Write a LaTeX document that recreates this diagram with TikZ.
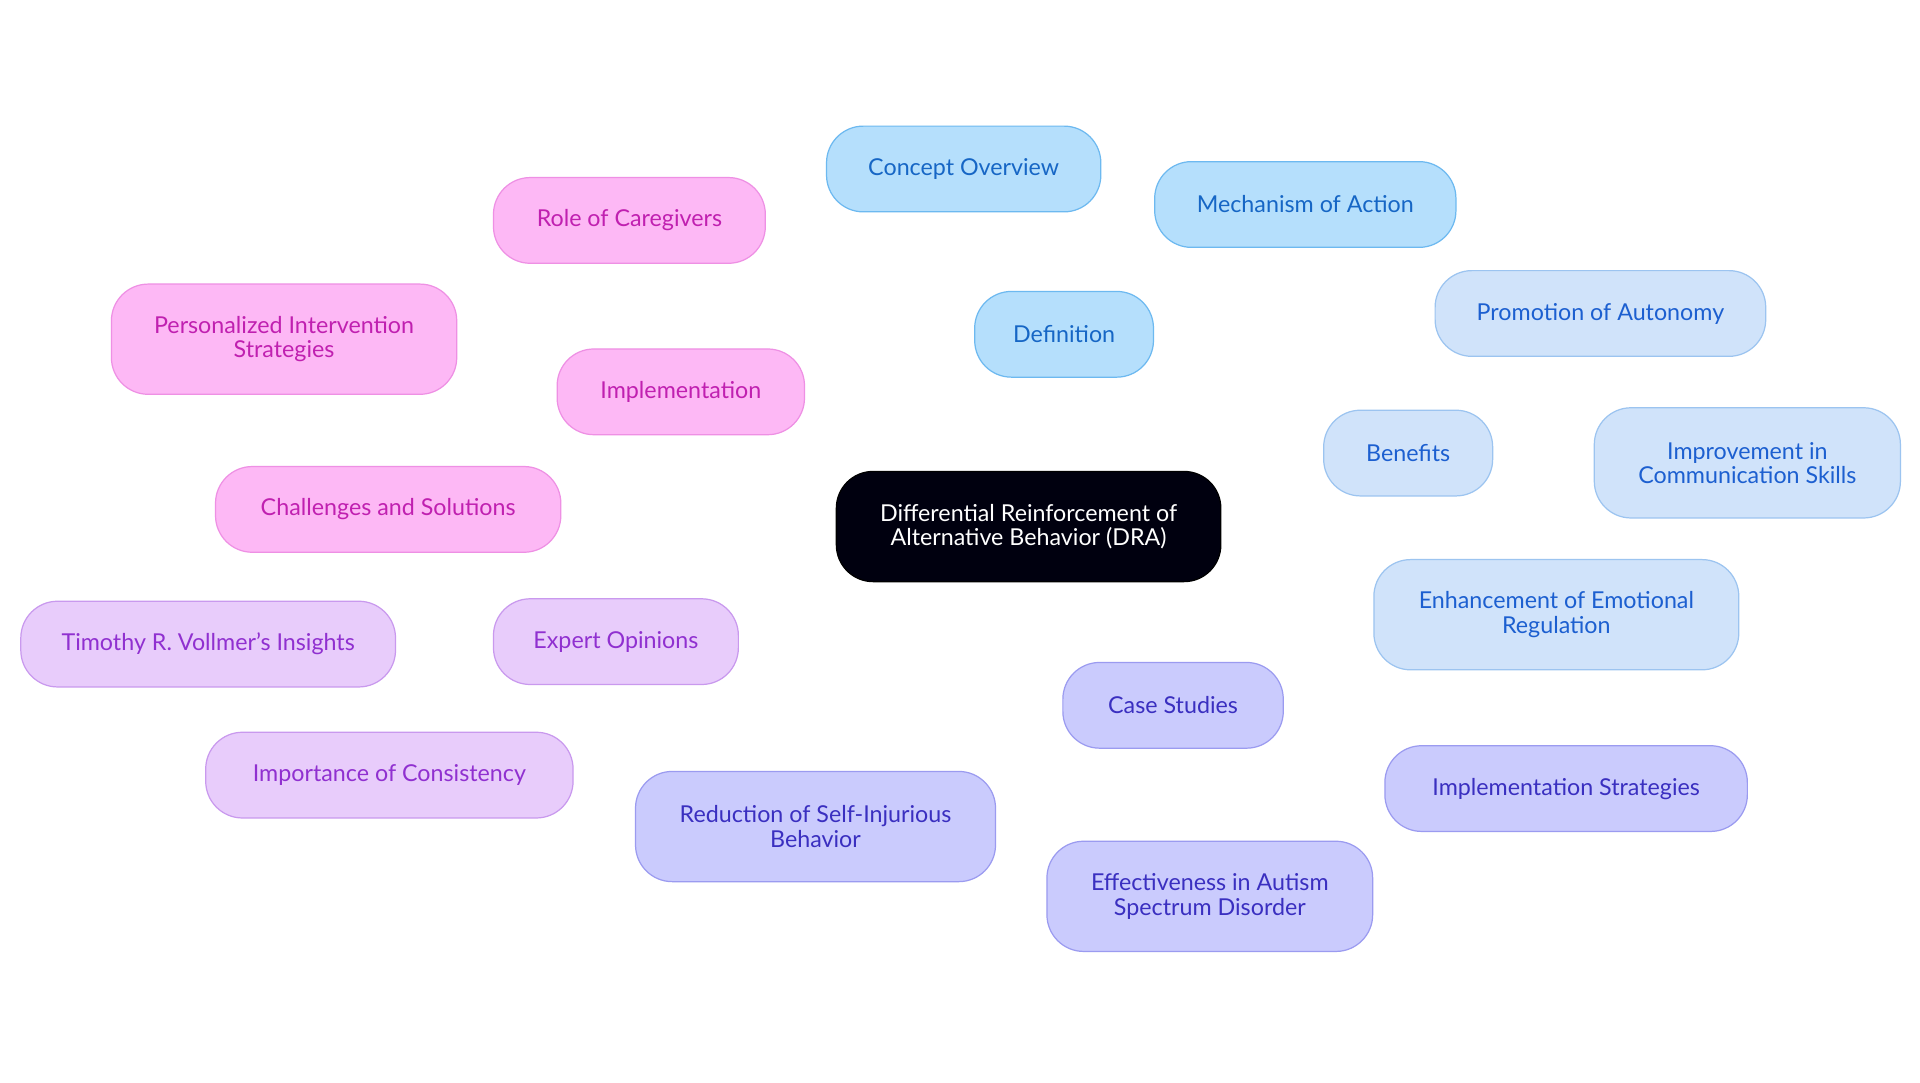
\documentclass[tikz,border=0pt]{standalone}
\usepackage{fontspec}
\setmainfont{Lato}
\usetikzlibrary{backgrounds}
\definecolor{blF}{HTML}{B5DFFC}\definecolor{blD}{HTML}{6DB9F0}\definecolor{blT}{HTML}{1666C5}
\definecolor{lbF}{HTML}{D0E3FA}\definecolor{lbD}{HTML}{9CC4F0}\definecolor{lbT}{HTML}{1C5FD0}
\definecolor{vF}{HTML}{CACBFD}\definecolor{vD}{HTML}{9B9BF0}\definecolor{vT}{HTML}{3A2FC0}
\definecolor{pF}{HTML}{E8CCFB}\definecolor{pD}{HTML}{C999EE}\definecolor{pT}{HTML}{9030D0}
\definecolor{mF}{HTML}{FDB8F5}\definecolor{mD}{HTML}{EE90E4}\definecolor{mT}{HTML}{C020B0}
\tikzset{
 box/.style={rounded corners=30pt,minimum height=70pt,align=center,font=\fontsize{19}{20}\selectfont,line width=1pt},
 tall/.style={minimum height=90pt},
 bl/.style={box,fill=blF,draw=blD,text=blT},
 lb/.style={box,fill=lbF,draw=lbD,text=lbT},
 vi/.style={box,fill=vF,draw=vD,text=vT},
 pu/.style={box,fill=pF,draw=pD,text=pT},
 ma/.style={box,fill=mF,draw=mD,text=mT},
 w/.style={minimum width=#1pt},
 e/.style={line width=2.2pt,draw=#1}
}
\begin{document}
\begin{tikzpicture}[x=1pt,y=-1pt]
\useasboundingbox[fill=white] (0,0) rectangle (1568,884);
\node[box,fill=black!90!blue!60!black,draw=black,text=white,w=314,tall] (c) at (840,430) {Differential Reinforcement of\\Alternative Behavior (DRA)};
\node[bl,w=146] (d) at (869,273) {Definition};
\node[bl,w=224] (d1) at (787,138) {Concept Overview};
\node[bl,w=246] (d2) at (1066,167) {Mechanism of Action};
\node[lb,w=138] (b) at (1150,370) {Benefits};
\node[lb,w=270] (b1) at (1307,256) {Promotion of Autonomy};
\node[lb,w=250,tall] (b2) at (1427,378) {Improvement in\\Communication Skills};
\node[lb,w=298,tall] (b3) at (1271,502) {Enhancement of Emotional\\Regulation};
\node[vi,w=180] (s) at (958,576) {Case Studies};
\node[vi,w=296] (s1) at (1279,644) {Implementation Strategies};
\node[vi,w=266,tall] (s2) at (988,732) {Effectiveness in Autism\\Spectrum Disorder};
\node[vi,w=294,tall] (s3) at (666,675) {Reduction of Self-Injurious\\Behavior};
\node[pu,w=200] (x) at (503,524) {Expert Opinions};
\node[pu,w=306] (x1) at (170,526) {Timothy R. Vollmer's Insights};
\node[pu,w=300] (x2) at (318,633) {Importance of Consistency};
\node[ma,w=202] (i) at (556,320) {Implementation};
\node[ma,w=222] (i1) at (514,180) {Role of Caregivers};
\node[ma,w=282,tall] (i2) at (232,277) {Personalized Intervention\\Strategies};
\node[ma,w=282] (i3) at (317,416) {Challenges and Solutions};
\begin{scope}[on background layer]
\draw[e=blD] (c.center)--(d.center) (d.center)--(d1.center) (d.center)--(d2.center);
\draw[e=lbD] (c.center)--(b.center) (b.center)--(b1.center) (b.center)--(b2.center) (b.center)--(b3.center);
\draw[e=vD] (c.center)--(s.center) (s.center)--(s1.center) (s.center)--(s2.center) (s.center)--(s3.center);
\draw[e=pD] (c.center)--(x.center) (x.center)--(x1.center) (x.center)--(x2.center);
\draw[e=mD] (c.center)--(i.center) (i.center)--(i1.center) (i.center)--(i2.center) (i.center)--(i3.center);
\end{scope}
\end{tikzpicture}
\end{document}
